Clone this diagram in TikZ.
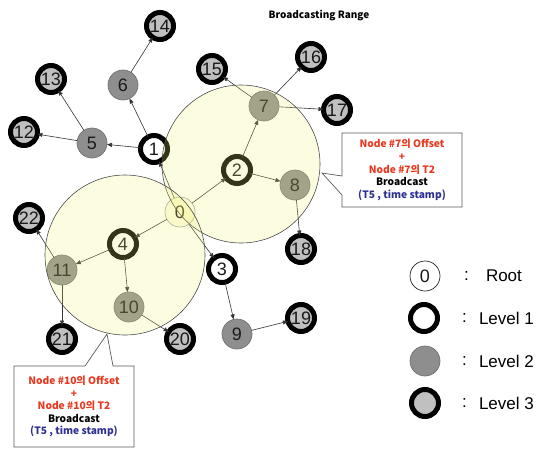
\documentclass[tikz,border=0pt]{standalone}
\usepackage{fontspec}
\setmainfont{Liberation Sans}
\newfontfamily\krfont{Noto Sans CJK KR}
\usetikzlibrary{arrows.meta}

\definecolor{graymid}{RGB}{142,142,142}
\definecolor{graylight}{RGB}{192,192,192}
\definecolor{rangefill}{RGB}{240,240,120}
\definecolor{rootcream}{RGB}{252,252,225}
\definecolor{noteRed}{RGB}{232,56,30}
\definecolor{noteBlue}{RGB}{46,49,146}

\begin{document}
\begin{tikzpicture}[x=1pt,y=-1pt,
  every node/.style={inner sep=0pt, outer sep=0pt},
  num/.style={font=\fontsize{18}{18}\selectfont, text=black!90},
  rootnode/.style={num, circle, draw=black!85, line width=0.7pt, fill=white, minimum size=30pt},
  levelone/.style={num, circle, draw=black, line width=5pt, fill=white, minimum size=27pt},
  leveltwo/.style={num, circle, draw=black!55, line width=0.7pt, fill=graymid, minimum size=30pt},
  levelthree/.style={num, circle, draw=black, line width=5pt, fill=graylight, minimum size=27pt},
  link/.style={draw=black!80, line width=0.6pt, -{Triangle[length=5pt,width=4pt]}},
  bcastzone/.style={circle, draw=black!70, line width=0.6pt, fill=rangefill, fill opacity=0.22},
  notebox/.style={fill=white, align=center, font=\krfont\bfseries\fontsize{10.2}{12.6}\selectfont},
  noteframe/.style={draw=black!65, line width=0.7pt},
  legendtext/.style={anchor=west, font=\fontsize{17}{17}\selectfont},
]
\useasboundingbox (0,0) rectangle (541,448);

% tree nodes
\node[rootnode, draw=black!35, fill=rootcream] (n0) at (180,212) {0};
\node[levelone] (n1) at (154,149) {1};
\node[levelone] (n2) at (237,170) {2};
\node[levelone] (n3) at (222,269) {3};
\node[levelone] (n4) at (123,244) {4};
\node[leveltwo] (n5) at (92,143) {5};
\node[leveltwo] (n6) at (123,85) {6};
\node[leveltwo] (n7) at (264,106) {7};
\node[leveltwo] (n8) at (295,185) {8};
\node[leveltwo] (n9) at (237,334) {9};
\node[leveltwo] (n10) at (129,307) {10};
\node[leveltwo] (n11) at (62,270) {11};
\node[levelthree] (n12) at (24,132) {12};
\node[levelthree] (n13) at (51,79) {13};
\node[levelthree] (n14) at (160,26) {14};
\node[levelthree] (n15) at (212,69) {15};
\node[levelthree] (n16) at (311,57) {16};
\node[levelthree] (n17) at (337,110) {17};
\node[levelthree] (n18) at (301,249) {18};
\node[levelthree] (n19) at (301,318) {19};
\node[levelthree] (n20) at (180,339) {20};
\node[levelthree] (n21) at (62,339) {21};
\node[levelthree] (n22) at (29,218) {22};

% parent -> child links
\foreach \a/\b in {n0/n1, n0/n2, n0/n3, n0/n4,
                   n1/n5, n1/n6, n5/n12, n5/n13, n6/n14,
                   n2/n7, n2/n8, n7/n15, n7/n16, n7/n17, n8/n18,
                   n3/n9, n9/n19,
                   n4/n11, n4/n10, n11/n22, n11/n21, n10/n20}
  \draw[link] (\a) -- (\b);

% broadcasting ranges
\node[bcastzone, minimum size=158pt] (zoneA) at (241,164) {};
\node[bcastzone, minimum size=160pt] (zoneB) at (125,255) {};

\node[font=\krfont\bfseries\fontsize{10}{10}\selectfont] (title) at (319,16) {Broadcasting Range};

% callout for node 7
\node[notebox, minimum width=120pt, minimum height=74pt] (noteA) at (402,170)
  {\textcolor{noteRed}{Node \#7의 Offset}\\
   \textcolor{noteRed}{+}\\
   \textcolor{noteRed}{Node \#7의 T2}\\
   Broadcast\\
   \textcolor{noteBlue}{(T5 , time stamp)}};
\coordinate (tipA) at (322,173);
\draw[noteframe] (noteA.north west) -- (noteA.north east) -- (noteA.south east)
  -- (noteA.south west) -- ([yshift=-25pt]noteA.west) -- (tipA)
  -- ([yshift=-6pt]noteA.west) -- cycle;

% callout for node 10
\node[notebox, minimum width=120pt, minimum height=81pt] (noteB) at (74,406.5)
  {\textcolor{noteRed}{Node \#10의 Offset}\\
   \textcolor{noteRed}{+}\\
   \textcolor{noteRed}{Node \#10의 T2}\\
   Broadcast\\
   \textcolor{noteBlue}{(T5 , time stamp)}};
\coordinate (tipB) at (107,334);
\draw[noteframe] (noteB.north west) -- ([xshift=11pt]noteB.north) -- (tipB)
  -- ([xshift=39pt]noteB.north) -- (noteB.north east) -- (noteB.south east)
  -- (noteB.south west) -- cycle;

% legend
\node[rootnode] (keyroot) at (425,276) {0};
\node[levelone] (keyone) at (424,318) {};
\node[leveltwo] (keytwo) at (425,361) {};
\node[levelthree] (keythree) at (425,403) {};
\node[legendtext] (colroot) at (464,276) {:};
\node[legendtext] (colone) at (462,318) {:};
\node[legendtext] (coltwo) at (462,361) {:};
\node[legendtext] (colthree) at (462,403) {:};
\node[legendtext] (txtroot) at (486,276) {Root};
\node[legendtext] (txtone) at (479,318) {Level 1};
\node[legendtext] (txttwo) at (479,361) {Level 2};
\node[legendtext] (txtthree) at (479,403) {Level 3};
\end{tikzpicture}
\end{document}
